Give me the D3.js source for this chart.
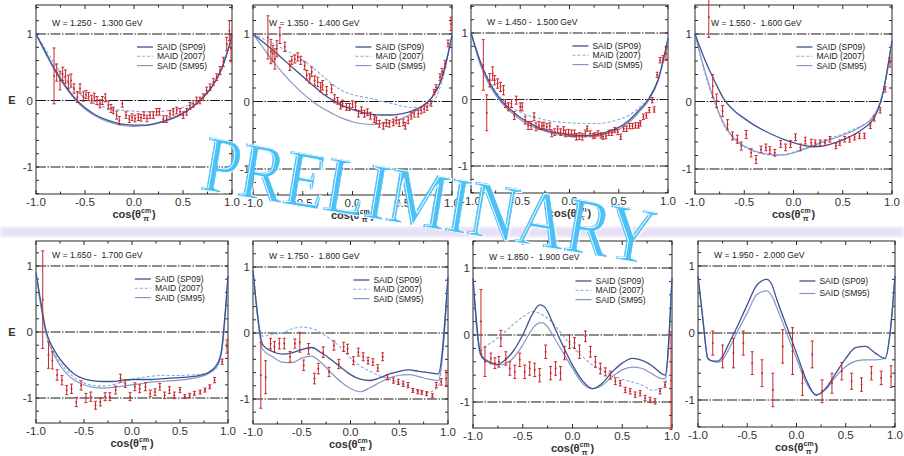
<!DOCTYPE html>
<html><head><meta charset="utf-8">
<script src="https://cdn.jsdelivr.net/npm/d3@7"></script>
<style>body{margin:0;background:#fff}svg{display:block}</style>
</head><body><svg id="c" width="904" height="456"></svg>
<script>
// Beam-target helicity asymmetry E vs cos(theta_pi^cm), eight W bins
const binLabels = ["W = 1.250 -  1.300 GeV","W = 1.350 -  1.400 GeV","W = 1.450 -  1.500 GeV","W = 1.550 -  1.600 GeV",
                   "W = 1.650 -  1.700 GeV","W = 1.750 -  1.800 GeV","W = 1.850 -  1.900 GeV","W = 1.950 -  2.000 GeV"];
const seriesNames = ["SAID (SP09)","MAID (2007)","SAID (SM95)"];
const xTickLabels = [-1, -0.5, 0, 0.5, 1];
const yTickLabels = [1, 0, -1];
const refLines = [1, 0, -1];

// measured points: [cos, E, error]
const data1250 = [[-0.816,0.37,0.42],[-0.789,0.42,0.13],[-0.755,0.30,0.14],[-0.728,0.40,0.10],[-0.70,0.36,0.10],[-0.67,0.28,0.10],[-0.643,0.30,0.10],[-0.612,0.18,0.07],[-0.578,0.05,0.08],[-0.551,0.18,0.07],[-0.517,0.06,0.07],[-0.49,0.09,0.06],[-0.463,0.06,0.06],[-0.432,0.02,0.06],[-0.405,0.05,0.06],[-0.378,0.0,0.06],[-0.347,-0.05,0.06],[-0.323,0.0,0.06],[-0.293,0.04,0.06],[-0.262,-0.07,0.06],[-0.235,-0.12,0.06],[-0.211,-0.15,0.05],[-0.177,-0.22,0.06],[-0.15,-0.30,0.06],[-0.119,-0.05,0.05],[-0.082,-0.22,0.05],[-0.048,-0.28,0.05],[-0.02,-0.25,0.05],[0.01,-0.27,0.05],[0.044,-0.25,0.05],[0.071,-0.26,0.05],[0.102,-0.22,0.05],[0.133,-0.27,0.05],[0.163,-0.22,0.05],[0.197,-0.22,0.05],[0.231,-0.17,0.05],[0.259,-0.17,0.05],[0.30,-0.28,0.05],[0.333,-0.28,0.05],[0.367,-0.20,0.05],[0.401,-0.17,0.05],[0.435,-0.15,0.05],[0.469,-0.17,0.05],[0.503,-0.22,0.05],[0.537,-0.17,0.05],[0.571,-0.08,0.05],[0.605,-0.05,0.05],[0.639,0.0,0.05],[0.673,0.0,0.05],[0.707,0.05,0.05],[0.741,0.15,0.05],[0.776,0.20,0.05],[0.81,0.28,0.05],[0.844,0.35,0.05],[0.878,0.45,0.06],[0.912,0.58,0.07],[0.946,0.85,0.10],[0.973,1.05,0.15],[0.99,0.78,0.20]];
const data1350 = [[-0.85,0.95,0.32],[-0.82,0.74,0.18],[-0.80,0.71,0.12],[-0.78,0.63,0.15],[-0.76,0.78,0.12],[-0.73,0.98,0.12],[-0.68,0.81,0.07],[-0.63,0.53,0.07],[-0.61,0.61,0.06],[-0.58,0.63,0.06],[-0.55,0.66,0.06],[-0.52,0.61,0.06],[-0.48,0.53,0.06],[-0.46,0.39,0.07],[-0.43,0.34,0.07],[-0.41,0.44,0.07],[-0.38,0.31,0.07],[-0.35,0.29,0.07],[-0.32,0.21,0.07],[-0.30,0.24,0.07],[-0.26,0.16,0.06],[-0.21,0.19,0.06],[-0.18,0.04,0.06],[-0.15,0.01,0.05],[-0.12,-0.06,0.05],[-0.10,-0.03,0.05],[-0.06,-0.08,0.05],[-0.03,-0.08,0.05],[0.0,-0.04,0.05],[0.03,-0.07,0.05],[0.06,-0.18,0.05],[0.09,-0.13,0.05],[0.12,-0.18,0.05],[0.15,-0.16,0.05],[0.18,-0.21,0.05],[0.22,-0.26,0.05],[0.24,-0.28,0.05],[0.27,-0.33,0.05],[0.31,-0.36,0.05],[0.34,-0.32,0.05],[0.37,-0.33,0.05],[0.41,-0.31,0.05],[0.44,-0.28,0.05],[0.47,-0.32,0.05],[0.51,-0.31,0.05],[0.53,-0.36,0.05],[0.56,-0.28,0.05],[0.59,-0.21,0.05],[0.62,-0.18,0.05],[0.66,-0.18,0.05],[0.69,-0.13,0.05],[0.72,-0.11,0.05],[0.75,-0.08,0.05],[0.79,-0.03,0.04],[0.82,0.14,0.04],[0.84,0.21,0.04],[0.88,0.36,0.05],[0.90,0.44,0.05],[0.93,0.56,0.05],[0.96,0.86,0.05],[0.99,1.15,0.10]];
const data1450 = [[-0.875,0.52,0.38],[-0.84,-0.2,0.27],[-0.81,0.29,0.10],[-0.78,0.39,0.10],[-0.76,0.29,0.07],[-0.73,0.24,0.07],[-0.70,0.19,0.07],[-0.67,0.14,0.07],[-0.65,-0.06,0.06],[-0.62,-0.11,0.06],[-0.59,-0.06,0.06],[-0.56,-0.24,0.06],[-0.54,-0.01,0.06],[-0.50,-0.11,0.06],[-0.48,-0.11,0.06],[-0.45,-0.31,0.06],[-0.42,-0.39,0.06],[-0.39,-0.39,0.06],[-0.36,-0.26,0.06],[-0.34,-0.41,0.06],[-0.31,-0.39,0.06],[-0.28,-0.40,0.05],[-0.26,-0.39,0.05],[-0.23,-0.41,0.05],[-0.20,-0.40,0.05],[-0.18,-0.51,0.05],[-0.15,-0.49,0.05],[-0.12,-0.45,0.05],[-0.09,-0.49,0.05],[-0.06,-0.46,0.05],[-0.04,-0.51,0.05],[-0.01,-0.50,0.05],[0.02,-0.51,0.05],[0.05,-0.51,0.05],[0.07,-0.56,0.05],[0.10,-0.55,0.05],[0.13,-0.56,0.05],[0.16,-0.51,0.05],[0.18,-0.44,0.04],[0.21,-0.51,0.04],[0.24,-0.55,0.04],[0.26,-0.54,0.04],[0.29,-0.51,0.04],[0.32,-0.54,0.04],[0.34,-0.56,0.04],[0.37,-0.55,0.04],[0.40,-0.50,0.04],[0.43,-0.50,0.04],[0.46,-0.46,0.04],[0.49,-0.49,0.04],[0.52,-0.56,0.04],[0.55,-0.44,0.04],[0.58,-0.44,0.04],[0.61,-0.40,0.04],[0.64,-0.40,0.04],[0.67,-0.39,0.04],[0.70,-0.39,0.04],[0.72,-0.36,0.04],[0.75,-0.26,0.04],[0.78,-0.24,0.04],[0.81,-0.16,0.04],[0.84,-0.01,0.04],[0.86,-0.15,0.04],[0.89,0.37,0.04],[0.92,0.59,0.04],[0.95,0.62,0.04],[0.98,0.69,0.10]];
const data1550 = [[-0.86,1.25,0.30],[-0.82,0.23,0.17],[-0.78,0.01,0.10],[-0.72,-0.14,0.08],[-0.67,-0.34,0.07],[-0.62,-0.51,0.06],[-0.57,-0.56,0.06],[-0.53,-0.66,0.06],[-0.48,-0.49,0.06],[-0.43,-0.76,0.06],[-0.38,-0.86,0.06],[-0.33,-0.71,0.05],[-0.28,-0.68,0.05],[-0.24,-0.72,0.05],[-0.19,-0.76,0.05],[-0.13,-0.63,0.05],[-0.08,-0.68,0.05],[-0.03,-0.63,0.05],[0.02,-0.53,0.05],[0.07,-0.68,0.05],[0.12,-0.58,0.05],[0.18,-0.61,0.05],[0.22,-0.61,0.04],[0.27,-0.61,0.04],[0.32,-0.61,0.04],[0.37,-0.56,0.04],[0.43,-0.66,0.04],[0.47,-0.61,0.04],[0.52,-0.56,0.04],[0.57,-0.56,0.04],[0.62,-0.53,0.04],[0.67,-0.51,0.04],[0.72,-0.51,0.04],[0.78,-0.36,0.04],[0.82,-0.25,0.04],[0.88,-0.13,0.04],[0.93,0.18,0.04],[0.98,0.58,0.07]];
const data1650 = [[-0.93,0.49,0.74],[-0.87,-0.35,0.20],[-0.83,-0.43,0.13],[-0.78,-0.65,0.08],[-0.73,-0.73,0.07],[-0.68,-0.88,0.07],[-0.63,-0.86,0.07],[-0.58,-1.06,0.07],[-0.53,-0.81,0.07],[-0.48,-1.0,0.07],[-0.43,-0.98,0.07],[-0.38,-1.11,0.06],[-0.33,-1.06,0.06],[-0.28,-0.98,0.06],[-0.23,-0.98,0.06],[-0.17,-0.88,0.06],[-0.12,-0.70,0.06],[-0.07,-0.78,0.06],[-0.02,-0.98,0.06],[0.03,-0.83,0.06],[0.08,-0.86,0.06],[0.14,-0.83,0.06],[0.19,-0.93,0.05],[0.24,-0.91,0.05],[0.29,-0.83,0.05],[0.34,-0.96,0.05],[0.39,-0.88,0.05],[0.44,-0.96,0.05],[0.50,-0.88,0.04],[0.55,-0.98,0.03],[0.60,-0.96,0.03],[0.65,-0.93,0.03],[0.71,-0.91,0.03],[0.76,-0.88,0.03],[0.81,-0.83,0.03],[0.86,-0.73,0.04],[0.94,-0.45,0.04],[0.99,-0.22,0.10]];
const data1750 = [[-0.92,-0.64,0.50],[-0.87,-0.67,0.25],[-0.82,-0.16,0.08],[-0.78,-0.21,0.08],[-0.73,-0.16,0.08],[-0.68,-0.16,0.08],[-0.62,-0.36,0.08],[-0.57,-0.16,0.07],[-0.52,-0.14,0.15],[-0.48,-0.49,0.08],[-0.43,-0.24,0.08],[-0.37,-0.69,0.08],[-0.33,-0.54,0.08],[-0.28,-0.29,0.08],[-0.22,-0.59,0.07],[-0.17,-0.19,0.07],[-0.12,-0.47,0.07],[-0.07,-0.21,0.07],[-0.03,-0.24,0.07],[0.03,-0.42,0.06],[0.08,-0.29,0.06],[0.13,-0.36,0.06],[0.18,-0.42,0.05],[0.23,-0.44,0.05],[0.28,-0.53,0.05],[0.33,-0.36,0.06],[0.38,-0.67,0.04],[0.44,-0.72,0.04],[0.49,-0.74,0.04],[0.54,-0.77,0.04],[0.59,-0.79,0.04],[0.64,-0.87,0.03],[0.69,-0.89,0.03],[0.73,-0.90,0.03],[0.78,-0.92,0.03],[0.84,-0.95,0.03],[0.88,-0.79,0.04],[0.93,-0.74,0.05],[0.98,-0.69,0.12]];
const data1850 = [[-0.92,0.20,0.48],[-0.88,-0.40,0.22],[-0.82,-0.35,0.08],[-0.78,-0.42,0.08],[-0.74,-0.40,0.08],[-0.72,-0.05,0.12],[-0.67,-0.35,0.10],[-0.63,-0.50,0.10],[-0.58,-0.55,0.10],[-0.53,-0.37,0.10],[-0.48,-0.55,0.10],[-0.43,-0.50,0.10],[-0.38,-0.52,0.10],[-0.33,-0.60,0.10],[-0.27,-0.25,0.10],[-0.22,-0.57,0.10],[-0.17,-0.50,0.10],[-0.12,-0.57,0.10],[-0.08,-0.27,0.10],[-0.03,-0.10,0.10],[0.02,-0.12,0.08],[0.07,-0.25,0.10],[0.13,-0.02,0.08],[0.18,-0.25,0.08],[0.23,-0.40,0.08],[0.28,-0.50,0.08],[0.33,-0.55,0.06],[0.38,-0.60,0.06],[0.43,-0.69,0.05],[0.48,-0.72,0.04],[0.53,-0.82,0.04],[0.58,-0.84,0.04],[0.63,-0.89,0.04],[0.68,-0.87,0.04],[0.73,-0.94,0.04],[0.78,-0.97,0.04],[0.83,-0.99,0.04],[0.88,-0.84,0.04],[0.93,-0.74,0.04],[0.99,-0.68,0.73]];
const data1950 = [[-0.85,-0.15,0.18],[-0.75,-0.35,0.17],[-0.64,-0.30,0.22],[-0.54,-0.15,0.18],[-0.45,-0.45,0.17],[-0.35,-0.60,0.20],[-0.24,-0.85,0.25],[-0.14,-0.20,0.25],[-0.04,-0.27,0.35],[0.06,-0.75,0.18],[0.16,-0.32,0.20],[0.26,-0.87,0.17],[0.36,-0.75,0.15],[0.46,-0.57,0.13],[0.56,-0.72,0.12],[0.66,-0.77,0.10],[0.76,-0.60,0.10],[0.86,-0.67,0.10],[0.96,-0.65,0.16]];

// model predictions: [cos, E]
const sp09_1250 = [[-1,1],[-0.9,0.72],[-0.8,0.45],[-0.7,0.22],[-0.6,0.03],[-0.5,-0.11],[-0.4,-0.21],[-0.3,-0.28],[-0.2,-0.33],[-0.1,-0.36],[0,-0.37],[0.1,-0.37],[0.2,-0.35],[0.3,-0.31],[0.4,-0.26],[0.5,-0.19],[0.6,-0.09],[0.7,0.04],[0.8,0.22],[0.9,0.5],[1,0.97]];
const maid_1250 = [[-1,1],[-0.9,0.76],[-0.8,0.53],[-0.7,0.33],[-0.6,0.16],[-0.5,0.04],[-0.4,-0.05],[-0.3,-0.1],[-0.2,-0.13],[-0.1,-0.15],[0,-0.16],[0.1,-0.17],[0.2,-0.17],[0.3,-0.16],[0.4,-0.14],[0.5,-0.1],[0.6,-0.04],[0.7,0.06],[0.8,0.23],[0.9,0.5],[1,0.95]];
const sm95_1250 = [[-1,1],[-0.9,0.7],[-0.8,0.43],[-0.7,0.2],[-0.6,0.01],[-0.5,-0.13],[-0.4,-0.23],[-0.3,-0.3],[-0.2,-0.35],[-0.1,-0.38],[0,-0.39],[0.1,-0.38],[0.2,-0.36],[0.3,-0.32],[0.4,-0.27],[0.5,-0.2],[0.6,-0.1],[0.7,0.03],[0.8,0.21],[0.9,0.49],[1,0.96]];
const sp09_1350 = [[-1,1],[-0.9,0.88],[-0.8,0.76],[-0.7,0.63],[-0.6,0.5],[-0.5,0.37],[-0.4,0.24],[-0.3,0.12],[-0.2,0.02],[-0.1,-0.06],[0,-0.12],[0.1,-0.16],[0.2,-0.19],[0.3,-0.2],[0.4,-0.2],[0.5,-0.18],[0.6,-0.14],[0.7,-0.07],[0.8,0.06],[0.9,0.35],[1,0.98]];
const maid_1350 = [[-1,1],[-0.8,0.86],[-0.6,0.7],[-0.5,0.61],[-0.4,0.5],[-0.3,0.38],[-0.2,0.25],[-0.1,0.16],[0,0.1],[0.1,0.07],[0.2,0.04],[0.3,0.0],[0.4,-0.03],[0.5,-0.07],[0.6,-0.09],[0.7,-0.09],[0.8,-0.02],[0.9,0.3],[1,0.98]];
const sm95_1350 = [[-1,1],[-0.9,0.8],[-0.8,0.6],[-0.7,0.42],[-0.6,0.26],[-0.5,0.12],[-0.4,0.0],[-0.3,-0.1],[-0.2,-0.18],[-0.1,-0.25],[0,-0.3],[0.1,-0.33],[0.2,-0.34],[0.3,-0.33],[0.4,-0.3],[0.5,-0.25],[0.6,-0.17],[0.7,-0.07],[0.8,0.07],[0.9,0.35],[1,0.98]];
const sp09_1450 = [[-1,1],[-0.9,0.55],[-0.8,0.22],[-0.7,0.0],[-0.6,-0.15],[-0.5,-0.27],[-0.4,-0.36],[-0.3,-0.43],[-0.2,-0.48],[-0.1,-0.51],[0,-0.53],[0.1,-0.54],[0.2,-0.54],[0.3,-0.52],[0.4,-0.48],[0.5,-0.42],[0.6,-0.32],[0.7,-0.17],[0.8,0.0],[0.9,0.3],[1,0.92]];
const maid_1450 = [[-1,1],[-0.9,0.55],[-0.8,0.24],[-0.7,0.03],[-0.6,-0.1],[-0.5,-0.19],[-0.4,-0.25],[-0.3,-0.29],[-0.2,-0.32],[-0.1,-0.34],[0,-0.35],[0.1,-0.36],[0.2,-0.36],[0.3,-0.36],[0.4,-0.34],[0.5,-0.3],[0.6,-0.24],[0.7,-0.13],[0.8,0.02],[0.9,0.3],[1,0.9]];
const sm95_1450 = [[-1,1],[-0.9,0.5],[-0.8,0.18],[-0.7,-0.03],[-0.6,-0.18],[-0.5,-0.3],[-0.4,-0.39],[-0.3,-0.45],[-0.2,-0.5],[-0.1,-0.53],[0,-0.55],[0.1,-0.56],[0.2,-0.56],[0.3,-0.54],[0.4,-0.5],[0.5,-0.45],[0.6,-0.35],[0.7,-0.2],[0.8,-0.02],[0.9,0.28],[1,0.9]];
const sp09_1550 = [[-1,1],[-0.9,0.62],[-0.8,0.3],[-0.7,0.02],[-0.6,-0.14],[-0.5,-0.25],[-0.4,-0.35],[-0.3,-0.43],[-0.2,-0.5],[-0.1,-0.56],[0,-0.61],[0.1,-0.65],[0.2,-0.67],[0.3,-0.66],[0.4,-0.62],[0.5,-0.57],[0.6,-0.5],[0.7,-0.41],[0.8,-0.28],[0.85,-0.15],[0.9,0.08],[1,0.9]];
const maid_1550 = [[-1,1],[-0.9,0.42],[-0.8,-0.02],[-0.7,-0.37],[-0.6,-0.56],[-0.5,-0.67],[-0.4,-0.74],[-0.3,-0.78],[-0.2,-0.8],[-0.1,-0.79],[0,-0.75],[0.1,-0.7],[0.2,-0.64],[0.3,-0.58],[0.4,-0.53],[0.5,-0.48],[0.6,-0.42],[0.7,-0.35],[0.8,-0.25],[0.85,-0.14],[0.9,0.05],[1,0.88]];
const sm95_1550 = [[-1,1],[-0.9,0.45],[-0.8,0.0],[-0.7,-0.35],[-0.6,-0.55],[-0.5,-0.66],[-0.4,-0.73],[-0.3,-0.77],[-0.2,-0.79],[-0.1,-0.79],[0,-0.76],[0.1,-0.71],[0.2,-0.66],[0.3,-0.6],[0.4,-0.55],[0.5,-0.5],[0.6,-0.44],[0.7,-0.36],[0.8,-0.24],[0.85,-0.12],[0.9,0.08],[1,0.9]];
const sp09_1650 = [[-1,0.9],[-0.95,0.45],[-0.9,0.05],[-0.8,-0.3],[-0.7,-0.5],[-0.6,-0.64],[-0.5,-0.71],[-0.4,-0.74],[-0.3,-0.75],[-0.2,-0.75],[-0.1,-0.73],[0,-0.72],[0.1,-0.72],[0.2,-0.72],[0.3,-0.71],[0.4,-0.7],[0.5,-0.69],[0.6,-0.68],[0.7,-0.66],[0.8,-0.61],[0.9,-0.45],[0.93,-0.3],[1,0.85]];
const maid_1650 = [[-1,0.9],[-0.95,0.42],[-0.9,0.02],[-0.8,-0.34],[-0.7,-0.55],[-0.6,-0.69],[-0.5,-0.77],[-0.4,-0.81],[-0.3,-0.82],[-0.2,-0.8],[-0.1,-0.76],[0,-0.72],[0.1,-0.69],[0.2,-0.67],[0.3,-0.66],[0.4,-0.66],[0.5,-0.66],[0.6,-0.65],[0.7,-0.64],[0.8,-0.62],[0.9,-0.5],[0.93,-0.35],[1,0.8]];
const sm95_1650 = [[-1,0.9],[-0.95,0.4],[-0.9,0.0],[-0.8,-0.38],[-0.7,-0.6],[-0.6,-0.73],[-0.5,-0.8],[-0.4,-0.84],[-0.3,-0.85],[-0.2,-0.84],[-0.1,-0.82],[0,-0.8],[0.1,-0.78],[0.2,-0.76],[0.3,-0.75],[0.4,-0.74],[0.5,-0.73],[0.6,-0.71],[0.7,-0.68],[0.8,-0.63],[0.9,-0.48],[0.93,-0.32],[1,0.82]];
const sp09_1750 = [[-1,0.95],[-0.9,-0.18],[-0.8,-0.28],[-0.7,-0.32],[-0.6,-0.3],[-0.5,-0.25],[-0.4,-0.22],[-0.3,-0.3],[-0.2,-0.4],[-0.1,-0.52],[0,-0.63],[0.1,-0.7],[0.2,-0.72],[0.3,-0.68],[0.4,-0.62],[0.5,-0.58],[0.6,-0.56],[0.7,-0.58],[0.8,-0.6],[0.9,-0.62],[1,0.85]];
const maid_1750 = [[-1,0.95],[-0.9,-0.05],[-0.8,-0.02],[-0.7,0.0],[-0.6,0.06],[-0.5,0.09],[-0.4,0.07],[-0.3,0.0],[-0.2,-0.1],[-0.1,-0.22],[0,-0.38],[0.1,-0.5],[0.2,-0.58],[0.3,-0.65],[0.4,-0.7],[0.5,-0.76],[0.6,-0.82],[0.7,-0.87],[0.8,-0.9],[0.9,-0.8],[1,0.85]];
const sm95_1750 = [[-1,0.95],[-0.9,-0.25],[-0.8,-0.36],[-0.7,-0.44],[-0.6,-0.45],[-0.5,-0.38],[-0.4,-0.35],[-0.3,-0.45],[-0.2,-0.6],[-0.1,-0.74],[0,-0.84],[0.1,-0.89],[0.2,-0.83],[0.3,-0.75],[0.4,-0.68],[0.5,-0.64],[0.6,-0.63],[0.7,-0.66],[0.8,-0.7],[0.9,-0.72],[1,0.85]];
const sp09_1850 = [[-1,0.85],[-0.93,-0.25],[-0.9,-0.35],[-0.85,-0.4],[-0.8,-0.43],[-0.75,-0.44],[-0.7,-0.4],[-0.6,-0.25],[-0.5,0.0],[-0.4,0.32],[-0.33,0.45],[-0.3,0.44],[-0.25,0.35],[-0.2,0.18],[-0.1,-0.15],[0,-0.45],[0.1,-0.68],[0.2,-0.8],[0.3,-0.72],[0.4,-0.55],[0.5,-0.42],[0.6,-0.35],[0.7,-0.38],[0.8,-0.46],[0.9,-0.58],[0.93,-0.6],[1,0.85]];
const maid_1850 = [[-1,0.85],[-0.93,-0.25],[-0.9,-0.2],[-0.8,-0.1],[-0.7,0.02],[-0.6,0.15],[-0.5,0.27],[-0.4,0.35],[-0.3,0.3],[-0.2,0.18],[-0.1,0.0],[0,-0.18],[0.1,-0.32],[0.2,-0.45],[0.3,-0.53],[0.4,-0.6],[0.5,-0.66],[0.6,-0.7],[0.7,-0.75],[0.8,-0.82],[0.9,-0.8],[0.93,-0.75],[1,0.85]];
const sm95_1850 = [[-1,0.85],[-0.93,-0.25],[-0.9,-0.33],[-0.8,-0.42],[-0.75,-0.45],[-0.7,-0.44],[-0.6,-0.35],[-0.5,-0.15],[-0.4,0.1],[-0.33,0.18],[-0.3,0.18],[-0.25,0.12],[-0.2,0.0],[-0.1,-0.25],[0,-0.5],[0.1,-0.72],[0.2,-0.8],[0.3,-0.75],[0.4,-0.62],[0.5,-0.52],[0.6,-0.48],[0.7,-0.5],[0.8,-0.58],[0.9,-0.65],[0.93,-0.65],[1,0.85]];
const sp09_1950 = [[-1,0.85],[-0.95,0.2],[-0.9,-0.38],[-0.85,-0.42],[-0.8,-0.42],[-0.75,-0.35],[-0.7,-0.2],[-0.6,0.1],[-0.5,0.42],[-0.4,0.72],[-0.3,0.8],[-0.25,0.72],[-0.2,0.5],[-0.1,0.1],[0,-0.3],[0.1,-0.7],[0.2,-0.93],[0.3,-0.82],[0.4,-0.6],[0.5,-0.38],[0.6,-0.22],[0.7,-0.2],[0.8,-0.3],[0.9,-0.38],[0.95,0.0],[1,0.85]];
const sm95_1950 = [[-1,0.85],[-0.95,0.2],[-0.9,-0.38],[-0.85,-0.42],[-0.8,-0.44],[-0.75,-0.4],[-0.7,-0.28],[-0.6,0.02],[-0.5,0.3],[-0.4,0.58],[-0.3,0.63],[-0.25,0.55],[-0.2,0.38],[-0.1,0.0],[0,-0.38],[0.1,-0.75],[0.2,-0.92],[0.3,-0.84],[0.4,-0.65],[0.5,-0.5],[0.6,-0.42],[0.7,-0.4],[0.8,-0.4],[0.9,-0.38],[0.95,0.0],[1,0.85]];

const pointSets = [data1250, data1350, data1450, data1550, data1650, data1750, data1850, data1950];
const curveSets = [
  [sp09_1250, maid_1250, sm95_1250], [sp09_1350, maid_1350, sm95_1350],
  [sp09_1450, maid_1450, sm95_1450], [sp09_1550, maid_1550, sm95_1550],
  [sp09_1650, maid_1650, sm95_1650], [sp09_1750, maid_1750, sm95_1750],
  [sp09_1850, maid_1850, sm95_1850], [sp09_1950, null, sm95_1950]
];

// panel frames on the page (left, right, pixel rows of E=+1 and E=-1, frame top/bottom)
const frames = [
  {l:36, r:232, y1:34, ym1:167, t:5, b:194},
  {l:253, r:452, y1:34, ym1:169, t:5, b:195},
  {l:471, r:668, y1:33, ym1:166, t:5, b:193},
  {l:695, r:892, y1:34, ym1:169, t:5, b:194},
  {l:36, r:228, y1:266, ym1:398, t:241, b:423},
  {l:253, r:448, y1:267, ym1:399, t:241, b:424},
  {l:473, r:672, y1:268, ym1:402, t:241, b:428},
  {l:698, r:895, y1:266, ym1:400, t:241, b:427}
];

const FONT = "'Liberation Sans', Arial, Helvetica, sans-serif";
const RED = "#c8262d";
const styles = [
  {color:"#3d5391", dash:null, w:1.3},
  {color:"#7aaee2", dash:"3,2", w:1.1},
  {color:"#8597c4", dash:null, w:1.2}
];

const svg = d3.select("#c");
const defs = svg.append("defs");
defs.append("filter").attr("id","soft").append("feGaussianBlur").attr("stdDeviation", 1.6);

// faint lavender smudge between the two rows
svg.append("rect").attr("x", 0).attr("y", 227).attr("width", 904).attr("height", 10)
  .attr("fill", "#e2d9f5").attr("opacity", 0.8).attr("filter", "url(#soft)");

frames.forEach((f, i) => {
  const x = d3.scaleLinear().domain([-1, 1]).range([f.l, f.r]);
  const y = d3.scaleLinear().domain([-1, 1]).range([f.ym1, f.y1]);
  const yTop = y.invert(f.t), yBot = y.invert(f.b);
  const g = svg.append("g");

  // reference lines at E = +1, 0, -1
  g.selectAll(".ref").data(refLines).join("line")
    .attr("x1", f.l).attr("x2", f.r).attr("y1", d => y(d)).attr("y2", d => y(d))
    .attr("stroke", "#1a1a1a").attr("stroke-width", 1.1).attr("stroke-dasharray", "10,1.5,1.5,1.5");

  // frame
  g.append("rect").attr("x", f.l).attr("y", f.t).attr("width", f.r - f.l).attr("height", f.b - f.t)
    .attr("fill", "none").attr("stroke", "#2a2a2a").attr("stroke-width", 1);

  // inward ticks
  const yt = d3.range(Math.ceil(yBot * 5), Math.floor(yTop * 5) + 1).map(v => v / 5);
  yt.forEach(v => {
    g.append("line").attr("x1", f.l).attr("x2", f.l + 3).attr("y1", y(v)).attr("y2", y(v)).attr("stroke", "#2a2a2a");
    g.append("line").attr("x1", f.r).attr("x2", f.r - 3).attr("y1", y(v)).attr("y2", y(v)).attr("stroke", "#2a2a2a");
  });
  d3.range(-4, 5).map(v => v / 4).forEach(v => {
    const len = (Math.abs(v * 2 - Math.round(v * 2)) < 1e-6) ? 4 : 2.5;
    g.append("line").attr("x1", x(v)).attr("x2", x(v)).attr("y1", f.b).attr("y2", f.b - len).attr("stroke", "#2a2a2a");
    g.append("line").attr("x1", x(v)).attr("x2", x(v)).attr("y1", f.t).attr("y2", f.t + len).attr("stroke", "#2a2a2a");
  });

  // tick labels
  g.selectAll(".xl").data(xTickLabels).join("text")
    .attr("x", d => x(d)).attr("y", f.b + 12).attr("text-anchor", "middle")
    .attr("font-family", FONT).attr("font-size", 11.5).attr("fill", "#333")
    .text(d => d3.format(".1f")(d).replace("−", "-"));
  g.selectAll(".yl").data(yTickLabels).join("text")
    .attr("x", f.l - 3).attr("y", d => y(d)).attr("dy", "0.36em").attr("text-anchor", "end")
    .attr("font-family", FONT).attr("font-size", 11.5).attr("fill", "#333")
    .text(d => String(d));

  // x-axis title cos(theta_pi^cm)
  const at = g.append("text").attr("x", (f.l + f.r) / 2).attr("y", f.b + 24)
    .attr("text-anchor", "middle").attr("font-family", FONT).attr("font-size", 11)
    .attr("font-weight", "bold").attr("fill", "#333");
  at.append("tspan").text("cos(θ");
  at.append("tspan").attr("font-size", 7).attr("dy", -5).text("cm");
  at.append("tspan").attr("font-size", 7.5).attr("dx", -8).attr("dy", 8).text("π");
  at.append("tspan").attr("dx", 3).attr("dy", -3).text(")");

  if (i === 0 || i === 4) {
    g.append("text").attr("x", 12).attr("y", y(0)).attr("dy", "0.36em").attr("text-anchor", "middle")
      .attr("font-family", FONT).attr("font-size", 11).attr("font-weight", "bold").attr("fill", "#333").text("E");
  }

  // bin label
  g.append("text").attr("x", f.l + 16).attr("y", f.y1 - 8)
    .attr("font-family", FONT).attr("font-size", 8.6).attr("fill", "#222")
    .style("white-space", "pre").text(binLabels[i]);

  // model curves
  const line = d3.line().x(d => x(d[0])).y(d => y(d[1])).curve(d3.curveMonotoneX);
  const curves = curveSets[i];
  [2, 1, 0].forEach(k => {
    if (!curves[k]) return;
    g.append("path").attr("d", line(curves[k])).attr("fill", "none")
      .attr("stroke", styles[k].color).attr("stroke-width", styles[k].w)
      .attr("stroke-dasharray", styles[k].dash);
  });

  // legend
  const entries = seriesNames.map((n, k) => ({n, k})).filter(e => curves[e.k]);
  const lx = f.l + 0.515 * (f.r - f.l);
  const step = entries.length === 3 ? 9.3 : 12.5;
  const y0 = f.y1 + (entries.length === 3 ? 13 : 15);
  entries.forEach((e, j) => {
    const yy = y0 + j * step;
    g.append("line").attr("x1", lx).attr("x2", lx + 16).attr("y1", yy).attr("y2", yy)
      .attr("stroke", styles[e.k].color).attr("stroke-width", styles[e.k].w)
      .attr("stroke-dasharray", styles[e.k].dash);
    g.append("text").attr("x", lx + 20).attr("y", yy).attr("dy", "0.35em")
      .attr("font-family", FONT).attr("font-size", 8.5).attr("fill", "#222").text(e.n);
  });

  // data with error bars
  const pts = g.append("g").attr("stroke", RED).attr("stroke-width", 1);
  pointSets[i].forEach(p => {
    const cx = x(p[0]), top = y(p[1] + p[2]), bot = y(p[1] - p[2]);
    pts.append("line").attr("x1", cx).attr("x2", cx).attr("y1", top).attr("y2", bot);
    pts.append("line").attr("x1", cx - 1.5).attr("x2", cx + 1.5).attr("y1", top).attr("y2", top);
    pts.append("line").attr("x1", cx - 1.5).attr("x2", cx + 1.5).attr("y1", bot).attr("y2", bot);
    pts.append("circle").attr("cx", cx).attr("cy", y(p[1])).attr("r", 1).attr("fill", RED).attr("stroke", "none");
  });
});

// watermark: light-blue serif letters with a white hairline running inside each stroke
const wm = svg.append("g").attr("transform", "translate(199,189) rotate(9.5)")
  .attr("font-family", "'Liberation Serif', 'Times New Roman', serif").attr("font-size", 80);
wm.append("text").attr("textLength", 458).attr("lengthAdjust", "spacingAndGlyphs")
  .attr("fill", "#4cc1f7").attr("stroke", "#4cc1f7").attr("stroke-width", 0.6)
  .text("PRELIMINARY");
wm.append("text").attr("x", 1.6).attr("y", 0.3).attr("textLength", 458).attr("lengthAdjust", "spacingAndGlyphs")
  .attr("fill", "none").attr("stroke", "#ffffff").attr("stroke-width", 0.9)
  .text("PRELIMINARY");
</script></body></html>
